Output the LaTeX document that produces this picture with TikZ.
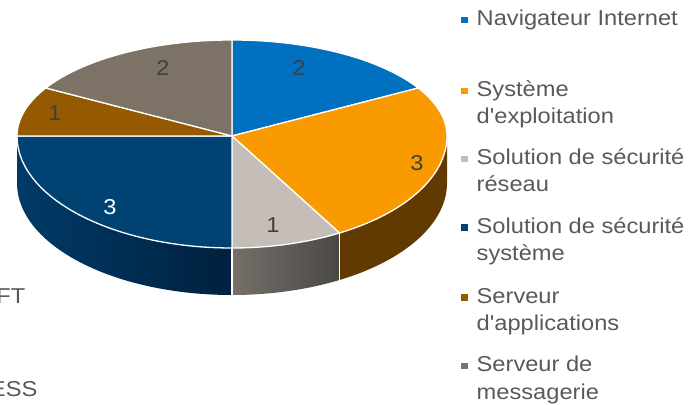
\documentclass[tikz,border=0pt]{standalone}
\usepackage{fontspec}
\setmainfont{Liberation Sans}[FakeStretch=1.1, Ligatures=TeXOff]
\definecolor{cNav}{HTML}{0070C0}
\definecolor{cSys}{HTML}{F99A00}
\definecolor{cRes}{HTML}{C4BDB8}
\definecolor{cSec}{HTML}{004373}
\definecolor{cApp}{HTML}{955900}
\definecolor{cMsg}{HTML}{7D7266}
\definecolor{cSysSide}{HTML}{603A00}
\definecolor{cResL}{HTML}{767069}
\definecolor{cResR}{HTML}{4A4846}
\definecolor{cSecL}{HTML}{003B68}
\definecolor{cSecR}{HTML}{00203E}
\definecolor{cTxt}{HTML}{595959}
\definecolor{cLbl}{HTML}{404040}
\begin{document}
\begin{tikzpicture}[x=1pt,y=1pt,
  slice/.style={draw=white, line width=1.3pt, line join=round},
  sep/.style={draw=white, line width=1.3pt},
  lbl/.style={font=\fontsize{21.5}{25}\selectfont, text=cLbl, inner sep=0pt},
  legtxt/.style={font=\fontsize{21.5}{25}\selectfont, text=cTxt, inner sep=0pt, anchor=base west},
  legmark/.style={minimum size=6.5pt, inner sep=0pt, draw=none}]
\useasboundingbox (0,0) rectangle (690,404);
\begin{scope}[shift={(232,268)}]
  % side faces
  \fill[cSysSide] (0:215 and 112) arc[start angle=0, end angle=-60, x radius=215, y radius=112]
     -- ++(0,-47) arc[start angle=-60, end angle=0, x radius=215, y radius=112] -- cycle;
  \shade[left color=cResL, right color=cResR] (-60:215 and 112) arc[start angle=-60, end angle=-90, x radius=215, y radius=112]
     -- ++(0,-47) arc[start angle=-90, end angle=-60, x radius=215, y radius=112] -- cycle;
  \shade[left color=cSecL, right color=cSecR] (-90:215 and 112) arc[start angle=-90, end angle=-180, x radius=215, y radius=112]
     -- ++(0,-47) arc[start angle=-180, end angle=-90, x radius=215, y radius=112] -- cycle;
  \coordinate (s60) at (-60:215 and 112);
  \coordinate (s90) at (-90:215 and 112);
  \draw[sep] (s60) -- ++(0,-47);
  \draw[sep] (s90) -- ++(0,-47);
  % top slices
  \coordinate (C) at (0,0);
  \filldraw[slice, fill=cNav] (C) -- (90:215 and 96) arc[start angle=90, end angle=30, x radius=215, y radius=96] -- cycle;
  \filldraw[slice, fill=cSys] (C) -- (30:215 and 96) arc[start angle=30, end angle=0, x radius=215, y radius=96]
     arc[start angle=0, end angle=-60, x radius=215, y radius=112] -- cycle;
  \filldraw[slice, fill=cRes] (C) -- (-60:215 and 112) arc[start angle=-60, end angle=-90, x radius=215, y radius=112] -- cycle;
  \filldraw[slice, fill=cSec] (C) -- (-90:215 and 112) arc[start angle=-90, end angle=-180, x radius=215, y radius=112] -- cycle;
  \filldraw[slice, fill=cApp] (C) -- (180:215 and 96) arc[start angle=180, end angle=150, x radius=215, y radius=96] -- cycle;
  \filldraw[slice, fill=cMsg] (C) -- (150:215 and 96) arc[start angle=150, end angle=90, x radius=215, y radius=96] -- cycle;
\end{scope}
% slice labels
\node[lbl] (l1) at (299,336) {2};
\node[lbl] (l2) at (417,241) {3};
\node[lbl] (l3) at (273,179) {1};
\node[lbl, text=white] (l4) at (110,197) {3};
\node[lbl] (l5) at (55,291) {1};
\node[lbl] (l6) at (163,336) {2};
% legend
\node[legmark, fill=cNav] (m1) at (464.3,384) {};
\node[legtxt] (t1) at (476.5,378) {Navigateur Internet};
\node[legmark, fill=cSys] (m2) at (464.3,313) {};
\node[legtxt] (t2a) at (476.5,307) {Système};
\node[legtxt] (t2b) at (476.5,280) {d'exploitation};
\node[legmark, fill=cRes] (m3) at (464.3,245) {};
\node[legtxt] (t3a) at (476.5,239) {Solution de sécurité};
\node[legtxt] (t3b) at (476.5,212) {réseau};
\node[legmark, fill=cSec] (m4) at (464.3,176.5) {};
\node[legtxt] (t4a) at (476.5,170.5) {Solution de sécurité};
\node[legtxt] (t4b) at (476.5,143.5) {système};
\node[legmark, fill=cApp] (m5) at (464.3,106.5) {};
\node[legtxt] (t5a) at (476.5,100.5) {Serveur};
\node[legtxt] (t5b) at (476.5,73.5) {d'applications};
\node[legmark, fill=cMsg] (m6) at (464.3,38) {};
\node[legtxt] (t6a) at (476.5,32) {Serveur de};
\node[legtxt] (t6b) at (476.5,5) {messagerie};
% cut-off texts at left edge (as in the reference)
\node[legtxt, anchor=base east] (c1) at (25.5,100) {FT};
\node[legtxt, anchor=base east] (c2) at (37.5,8) {ESS};
\end{tikzpicture}
\end{document}
